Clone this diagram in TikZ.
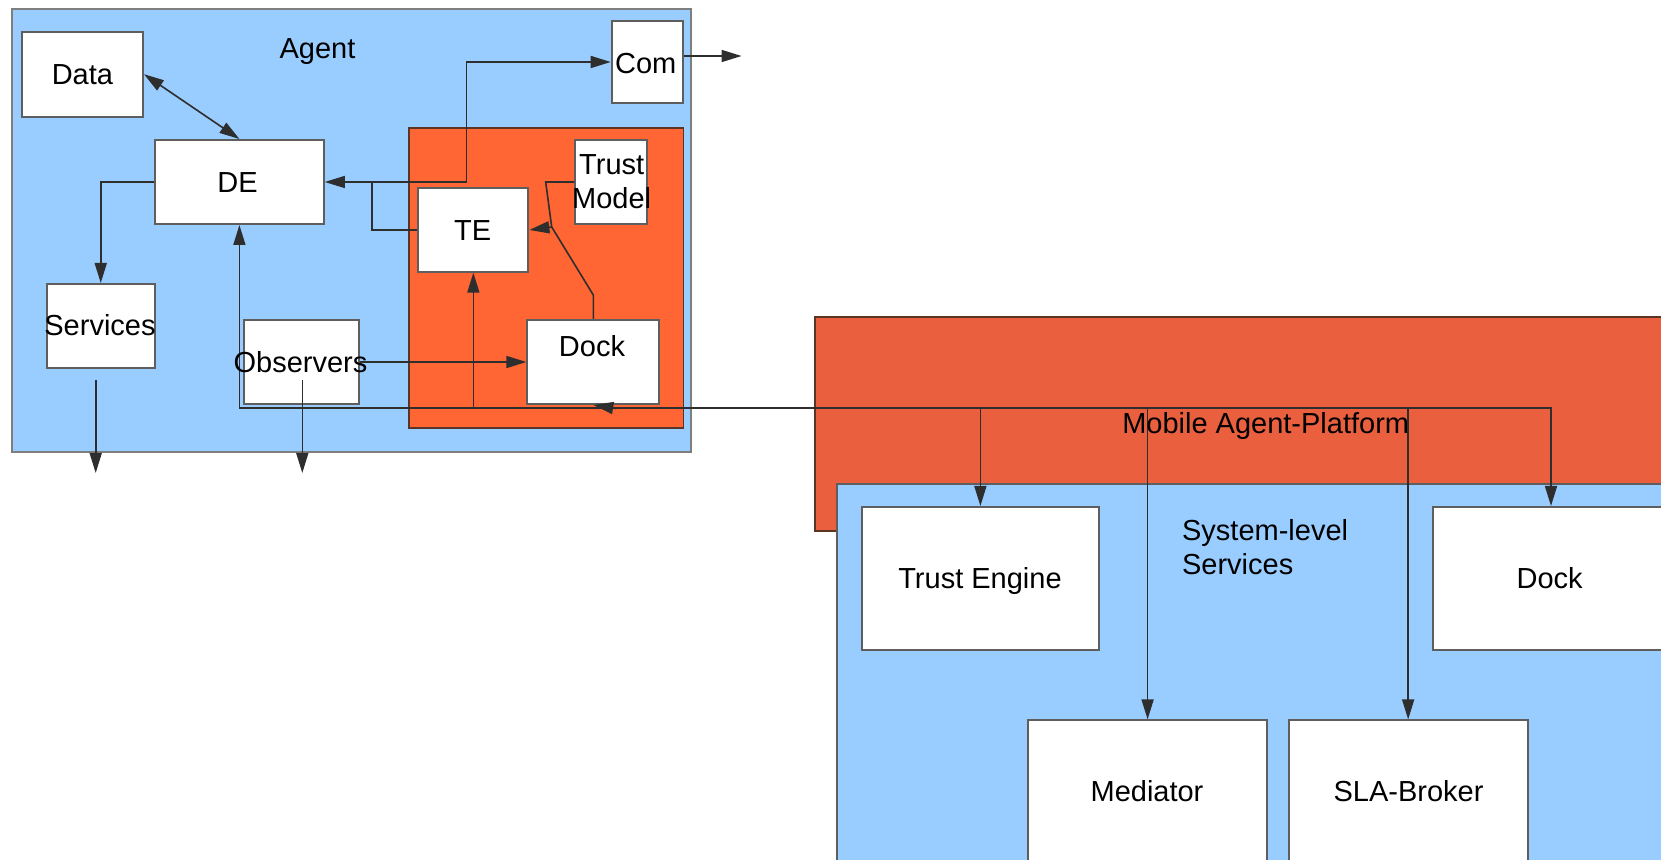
\documentclass[tikz,border=0pt]{standalone}
\usepackage{fontspec}
\setmainfont{Liberation Sans}
\usetikzlibrary{arrows.meta,fit}
\definecolor{skyblue}{HTML}{99CCFF}
\definecolor{trustorange}{HTML}{FF6633}
\definecolor{platorange}{HTML}{EA603F}
\definecolor{boxedge}{HTML}{5E5E5E}
\definecolor{zoneedge}{HTML}{5A3424}
\definecolor{wirecol}{HTML}{2E2E2E}
\tikzset{
  panel/.style={draw=boxedge, line width=1pt, inner sep=0pt},
  box/.style={panel, fill=white},
  zone/.style={draw=zoneedge, line width=0.9pt, inner sep=0pt},
  wire/.style={draw=wirecol, line width=0.8pt},
  arr/.style={wire, -{Triangle[length=10pt,width=6pt]}},
  biarr/.style={wire, {Triangle[length=10pt,width=6pt]}-{Triangle[length=10pt,width=6pt]}},
  txt/.style={inner sep=0pt, text height=10.4pt, text depth=0pt, align=center},
  twoline/.style={inner sep=0pt, anchor=base, align=center},
}
\begin{document}
\begin{tikzpicture}[x=0.5pt,y=-0.5pt,font=\fontsize{14.5pt}{17pt}\selectfont]
\useasboundingbox (0,0) rectangle (1661,860);
\clip (0,0) rectangle (1661,860);

% ---------- agent ----------
\node[panel, draw=boxedge!80, fill=skyblue, fit={(12,9.3) (690.7,451.7)}] (agent) {};
\node[zone, fill=trustorange, fit={(408.6,127.7) (683.5,427.7)}] (trustzone) {};

\node[box, fit={(21.8,31.7) (143,116.7)}] (data) {};
\node[box, fit={(611.7,20.7) (682.5,103.3)}] (com) {};
\node[box, fit={(155,140) (323.8,224)}] (de) {};
\node[box, fit={(575,140) (647,224)}] (tmodel) {};
\node[box, fit={(418.3,188.3) (528.4,271.7)}] (te) {};
\node[box, fit={(527.4,320) (659.2,404)}] (dock) {};
\node[box, fit={(46.5,284) (155,367.7)}] (services) {};
\node[box, fit={(243.8,320) (358.7,404)}] (observers) {};

% ---------- platform ----------
\node[zone, fill=platorange, fit={(814.8,316.8) (1720,531)}] (platform) {};
\node[panel, fill=skyblue, fit={(837.3,484) (1720,900)}] (syssvc) {};

\node[box, fit={(861.5,507) (1099.3,650)}] (tengine) {};
\node[box, fit={(1433,507) (1669,650)}] (pdock) {};
\node[box, fit={(1028.4,720.4) (1266.8,862)}] (mediator) {};
\node[box, fit={(1288.7,720.4) (1527.6,862)}] (sla) {};

% ---------- connectors inside the agent ----------
\coordinate (j1) at (371.8,182);
\coordinate (tj) at (551.7,227);
\coordinate (comout) at (741.6,56);
\coordinate (bus) at (239.4,408);
\coordinate (s1) at (95.7,380);
\coordinate (s2) at (95.7,473);
\coordinate (o1) at (302.3,380);
\coordinate (o2) at (302.3,473);
\coordinate (dk) at (616,408.5);

\draw[biarr] (data.east) -- (de.north);
\draw[arr] (te.west) -| (j1) -- (de.east);
\draw[arr] (j1) -- (466.3,182) |- (com.west);
\draw[arr] (com.east |- comout) -- (comout);
\draw[arr] (de.west) -| (services.north);
\draw[wire] (tmodel.west) -- (545.7,182) -- (tj);
\draw[wire] (dock.north) -- (593.3,295) -- (tj);
\draw[arr] (tj) -- (te.east);
\draw[arr] (observers.east) -- (dock.west);
\draw[arr] (bus) -- (de.south);
\draw[arr] (te.south |- bus) -- (te.south);
\draw[arr] (dk) -- (dock.south);
\draw[arr] (s1) -- (s2);
\draw[arr] (o1) -- (o2);

% ---------- bus to the platform services ----------
\draw[arr] (bus) -| (pdock.north);
\draw[arr] (tengine.north |- bus) -- (tengine.north);
\draw[arr] (mediator.north |- bus) -- (mediator.north);
\draw[arr] (sla.north |- bus) -- (sla.north);

% ---------- labels ----------
\node[txt] (agent-t) at (317.5,48) {Agent};
\node[txt] (data-t) at (82.4,74) {Data};
\node[txt] (com-t) at (645.7,63) {Com};
\node[txt] (de-t) at (237.5,182.5) {DE};
\node[txt] (te-t) at (472.6,230) {TE};
\node[twoline] (tmodel-t) at (611.7,208.4) {Trust\\Model};
\node[txt] (dock-t) at (592,346) {Dock};
\node[txt] (services-t) at (100,325.5) {Services};
\node[txt] (observers-t) at (300.5,361.7) {Observers};
\node[txt] (platform-t) at (1265.7,423) {Mobile Agent-Platform};
\node[twoline, anchor=base west, align=left] (syssvc-t) at (1181.7,574.7) {System-level\\Services};
\node[txt] (tengine-t) at (980,578) {Trust Engine};
\node[txt] (pdock-t) at (1549.6,578) {Dock};
\node[txt] (mediator-t) at (1147,791) {Mediator};
\node[txt] (sla-t) at (1408.5,791) {SLA-Broker};
\end{tikzpicture}
\end{document}
